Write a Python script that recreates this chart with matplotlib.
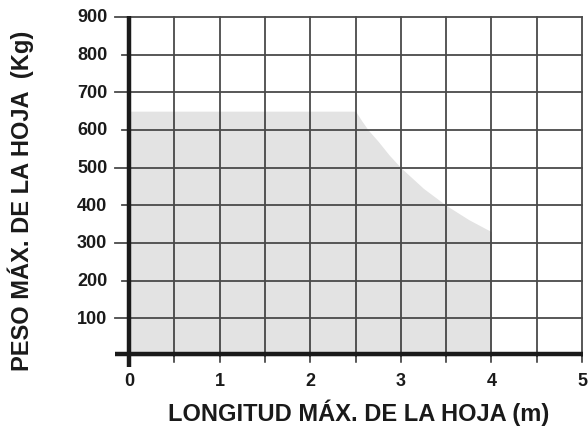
import matplotlib
matplotlib.use("Agg")
import matplotlib.pyplot as plt

# Maximum leaf weight (kg) allowed for each leaf length (m)
length_m = [0.0, 2.5, 2.57, 2.64, 2.75, 2.87, 3.0, 3.25, 3.5, 3.75, 4.0]
weight_kg = [650, 650, 624, 600, 570, 534, 500, 445, 400, 362, 330]

x_ticks = [0, 1, 2, 3, 4, 5]
y_ticks = [100, 200, 300, 400, 500, 600, 700, 800, 900]

plt.rcParams['font.family'] = ['Liberation Sans', 'DejaVu Sans']

W, H = 588, 427
fig = plt.figure(figsize=(W / 100, H / 100), dpi=100)
left, right, top, bottom = 129, 582, 18, 357
ax = fig.add_axes([left / W, 1 - bottom / H, (right - left) / W, (bottom - top) / H])
ax.set_xlim(0, 5)
ax.set_ylim(0, 900)
ax.axis('off')

# usable area
ax.fill_between(length_m, 0, weight_kg, color='#e3e3e3', linewidth=0, zorder=1)

# grid
for i in range(1, 11):
    xv = i * 0.5
    ax.plot([xv, xv], [0, 900], color='#2a2a2a', lw=1.1, zorder=2, clip_on=False)
for yv in y_ticks:
    x0 = -0.155 if (yv // 100) % 2 == 1 else -0.078
    ax.plot([x0, 5], [yv, yv], color='#4a4a4a', lw=1.3, zorder=2, clip_on=False)

# x tick marks below the axis
for i in range(1, 11):
    xv = i * 0.5
    ax.plot([xv, xv], [0, -16], color='#2a2a2a', lw=1.1, zorder=2, clip_on=False)

# main axes lines
ax.plot([-0.155, 5.01], [4, 4], color='#1a1a1a', lw=3.2, zorder=3, clip_on=False,
        solid_capstyle='butt')
ax.plot([0, 0], [-30, 902], color='#1a1a1a', lw=3.2, zorder=3, clip_on=False,
        solid_capstyle='butt')

# tick labels
for xv in x_ticks:
    ax.text(xv, -65, str(xv), ha='center', va='center', fontsize=13,
            fontweight='bold', color='#1a1a1a')
for yv in y_ticks:
    ax.text(-0.24, yv, str(yv), ha='right', va='center', fontsize=13,
            fontweight='bold', color='#1a1a1a')

fig.text(359 / W, 1 - 413 / H, 'LONGITUD MÁX. DE LA HOJA (m)', ha='center',
         va='center', fontsize=17, fontweight='bold', color='#1a1a1a')
fig.text(21 / W, 1 - 201 / H, 'PESO MÁX. DE LA HOJA  (Kg)', ha='center',
         va='center', rotation=90, fontsize=17, fontweight='bold', color='#1a1a1a')

fig.savefig('out.png', dpi=100)
